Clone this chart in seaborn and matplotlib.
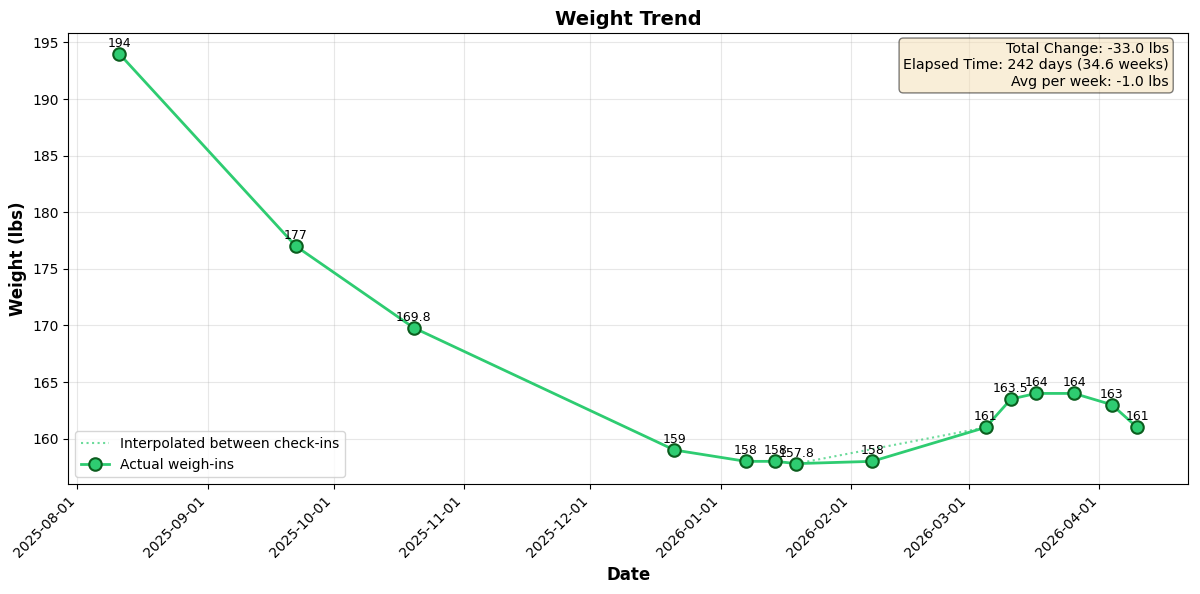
import pandas as pd
import matplotlib.pyplot as plt
import matplotlib.dates as mdates
import seaborn as sns

# weigh-in data
dates = ["2025-08-11", "2025-09-22", "2025-10-20", "2025-12-21", "2026-01-07",
         "2026-01-14", "2026-01-19", "2026-02-06", "2026-03-05", "2026-03-11",
         "2026-03-17", "2026-03-26", "2026-04-04", "2026-04-10"]
weights = [194, 177, 169.8, 159, 158, 158, 157.8, 158, 161, 163.5, 164, 164, 163, 161]
labels = ["194", "177", "169.8", "159", "158", "158", "157.8", "158", "161",
          "163.5", "164", "164", "163", "161"]

# dotted segment between check-ins
interp_dates = ["2026-01-19", "2026-03-05"]
interp_weights = [157.8, 161]

stats_text = ("Total Change: -33.0 lbs\n"
              "Elapsed Time: 242 days (34.6 weeks)\n"
              "Avg per week: -1.0 lbs")

df = pd.DataFrame({"date": pd.to_datetime(dates), "weight": weights})
df_interp = pd.DataFrame({"date": pd.to_datetime(interp_dates), "weight": interp_weights})

plt.rcParams['font.family'] = ['DejaVu Sans']

fig, ax = plt.subplots(figsize=(12, 5.94), dpi=100)

ax.plot(df_interp.date, df_interp.weight, linestyle=":", color="#2ecc71", alpha=0.7,
        linewidth=1.5, label="Interpolated between check-ins")
sns.lineplot(data=df, x="date", y="weight", ax=ax, color="#2ecc71", linewidth=2,
             marker="o", markersize=9, markerfacecolor="#2ecc71",
             markeredgecolor="#0b5d1e", markeredgewidth=1.5, label="Actual weigh-ins")

# value labels above points
for d, w, lab in zip(df.date, df.weight, labels):
    ax.annotate(lab, (d, w), textcoords="offset points", xytext=(0, 5),
                ha="center", fontsize=9)

ax.text(0.983, 0.98, stats_text, transform=ax.transAxes, ha="right", va="top",
        fontsize=10.2, bbox=dict(boxstyle="round", facecolor="wheat", alpha=0.5))

ax.xaxis.set_major_locator(mdates.MonthLocator())
ax.xaxis.set_major_formatter(mdates.DateFormatter("%Y-%m-%d"))
plt.setp(ax.get_xticklabels(), rotation=45, ha="right")

ax.grid(True, alpha=0.3)
ax.set_title("Weight Trend", fontsize=14, fontweight="bold")
ax.set_xlabel("Date", fontsize=12, fontweight="bold")
ax.set_ylabel("Weight (lbs)", fontsize=12, fontweight="bold")
ax.legend(loc="lower left")

fig.subplots_adjust(left=0.057, right=0.99, top=0.944, bottom=0.185)
fig.savefig("out.png", dpi=100)
